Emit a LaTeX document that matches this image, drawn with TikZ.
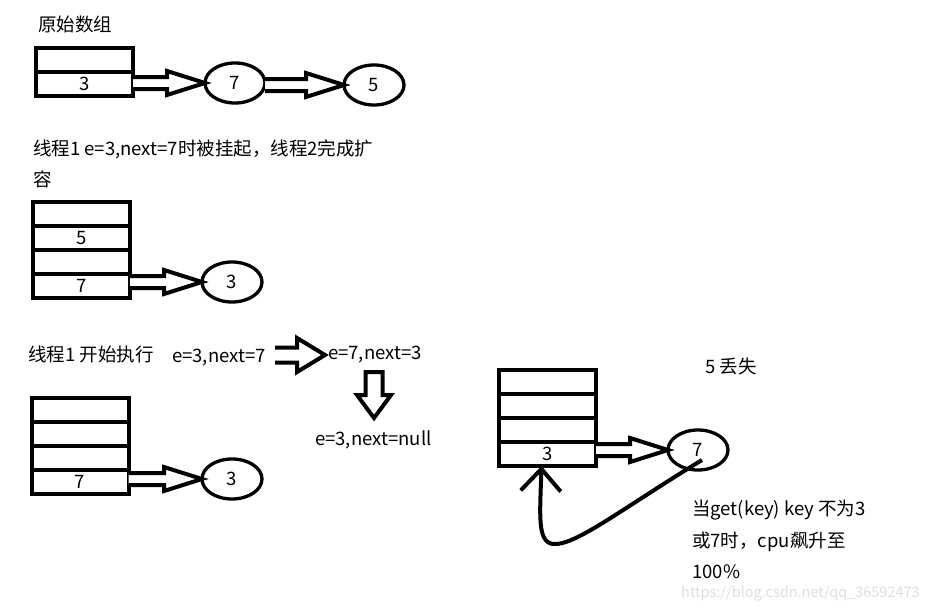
\documentclass[tikz,border=0pt]{standalone}
\usepackage{fontspec}
\setmainfont{Noto Sans CJK SC}
\usetikzlibrary{shapes.geometric,arrows.meta,calc}
\newcommand\fs{\fontsize{18.5}{22}\selectfont}
\newcommand\fsw{\fontsize{14.5}{16}\selectfont}
\tikzset{
  cell/.style={draw, line width=4pt, minimum width=97pt, minimum height=24pt, inner sep=0pt, outer sep=0pt, font=\fs},
  elli/.style={draw, ellipse, line width=3.3pt, minimum width=60pt, minimum height=40pt, inner sep=0pt, outer sep=0pt, font=\fs},
  lbl/.style={anchor=base west, inner sep=0pt, font=\fs},
  harrow/.style={draw, line width=4pt, line join=miter, fill=white},
  wm/.style={anchor=base west, inner sep=0pt, font=\fsw, text=black!13},
}
% horizontal block arrow: #1 start, #2 tip, #3 shaft half, #4 head half, #5 head length
\newcommand\hblock[5]{%
  \path[harrow] let \p1=(#1), \p2=(#2) in
    (\x1,\y2+#3) -- (\x2-#5,\y2+#3) -- (\x2-#5,\y2+#4) -- (\x2,\y2)
    -- (\x2-#5,\y2-#4) -- (\x2-#5,\y2-#3) -- (\x1,\y2-#3);}
% vertical (downward) block arrow
\newcommand\vblock[5]{%
  \path[harrow] let \p1=(#1), \p2=(#2) in
    (\x2-#3,\y1) -- (\x2-#3,\y2+#5) -- (\x2-#4,\y2+#5) -- (\x2,\y2)
    -- (\x2+#4,\y2+#5) -- (\x2+#3,\y2+#5) -- (\x2+#3,\y1) -- cycle;}
\begin{document}
\begin{tikzpicture}[x=1pt,y=-1pt]
\useasboundingbox (0,0) rectangle (936,610);
% ---------- section 1
\node[lbl] (t0) at (38,32) {原始数组};
\node[cell] (a1c1) at (84.5,60) {};
\node[cell] (a1c2) at (84.5,84) {3};
\node[elli] (e17) at (235,83) {7};
\node[elli] (e15) at (374,85) {5};
\hblock{a1c2.east}{e17.west}{6pt}{12pt}{38pt}
\hblock{e17.east}{e15.west}{6pt}{12pt}{38pt}
% ---------- section 2
\node[lbl] (t1) at (33,155) {线程1 e=3,next=7时被挂起，线程2完成扩};
\node[lbl] (t1b) at (33,186) {容};
\node[cell] (a2c1) at (81.5,214) {};
\node[cell] (a2c2) at (81.5,238) {5};
\node[cell] (a2c3) at (81.5,262) {};
\node[cell] (a2c4) at (81.5,286) {7};
\node[elli] (e23) at (232,282) {3};
\hblock{a2c4.east}{e23.west}{6pt}{12pt}{38pt}
% ---------- section 3
\node[lbl] (t2) at (28,361) {线程1 开始执行};
\node[lbl] (s1) at (172,362) {e=3,next=7};
\node[lbl] (s2) at (328,359) {e=7,next=3};
\node[lbl] (s3) at (315,445) {e=3,next=null};
\coordinate (b1) at (275,355);
\coordinate (b2) at (325,355);
\hblock{b1}{b2}{7.5pt}{17pt}{28pt}
\coordinate (d1) at (374,372);
\coordinate (d2) at (374,418);
\vblock{d1}{d2}{8.5pt}{17pt}{23pt}
\node[cell] (a3c1) at (80,410) {};
\node[cell] (a3c2) at (80,434) {};
\node[cell] (a3c3) at (80,458) {};
\node[cell] (a3c4) at (80,482) {7};
\node[elli] (e33) at (232,479) {3};
\hblock{a3c4.east}{e33.west}{6pt}{12pt}{38pt}
% ---------- section 4
\node[lbl] (t3) at (705,373) {5 丢失};
\node[cell] (a4c1) at (547.5,382) {};
\node[cell] (a4c2) at (547.5,406) {};
\node[cell] (a4c3) at (547.5,430) {};
\node[cell] (a4c4) at (547.5,454) {3};
\node[elli] (e47) at (698,450) {7};
\hblock{a4c4.east}{e47.west}{6pt}{12pt}{38pt}
\coordinate (cs) at ($(e47.center)+(4,10)$);
\coordinate (ce) at ($(a4c4.south)+(-6,0)$);
\draw[line width=4pt, -{Straight Barb[length=22pt,width=40pt,line width=4pt]}]
  (cs) .. controls (620,510) and (575,546) .. (553,544)
       .. controls (537,542) and (540,515) .. (ce);
\node[lbl] (t4) at (692,515) {当get(key) key 不为3};
\node[lbl] (t5) at (692,547) {或7时，cpu飙升至};
\node[lbl] (t6) at (692,578) {100\%};
\node[wm] (w) at (681,597) {https://blog.csdn.net/qq\_36592473};
\end{tikzpicture}
\end{document}
